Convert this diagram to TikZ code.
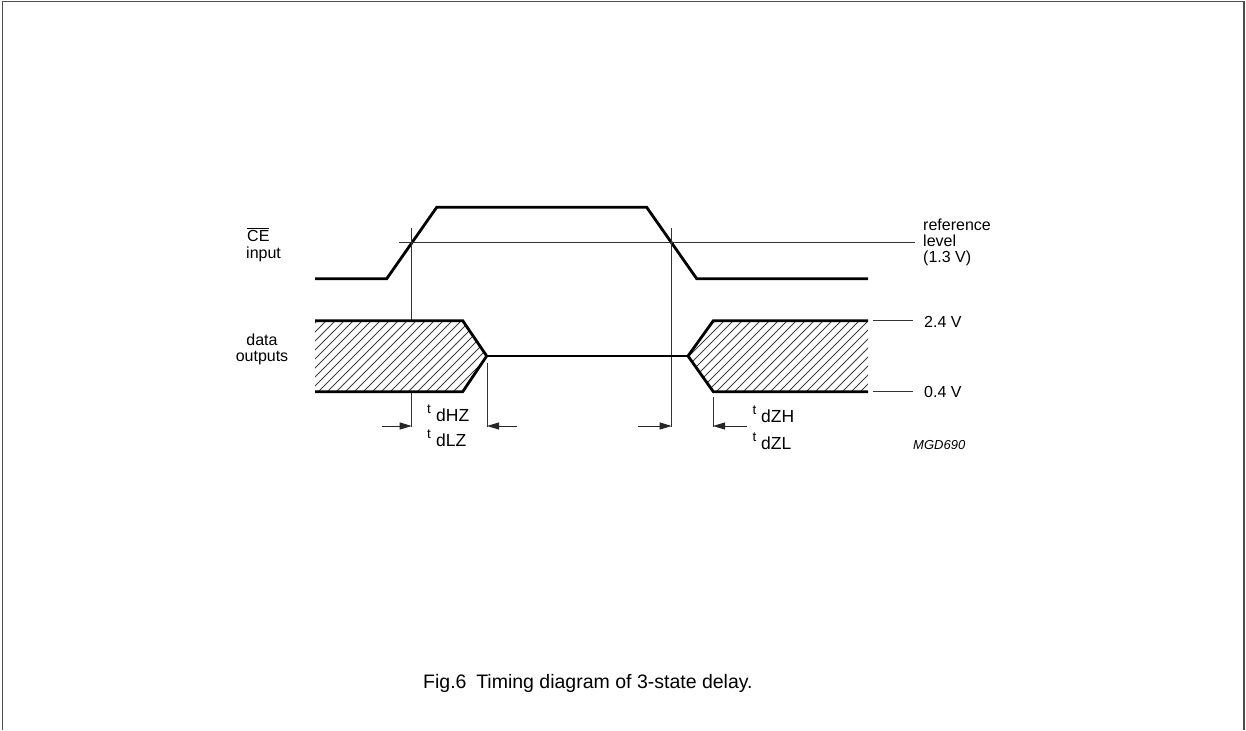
\documentclass[tikz,border=0pt]{standalone}
\usepackage{fontspec}
\setmainfont{Liberation Sans}
\usetikzlibrary{arrows.meta}
\begin{document}
\begin{tikzpicture}[x=1pt,y=-1pt,
  sig/.style={line width=2.8pt,line join=miter},
  thin/.style={line width=0.9pt,black!80},
  hatch/.style={line width=0.8pt,black!75},
  dim/.style={line width=0.9pt,black!85,-{Triangle[length=12pt,width=7pt]}},
  lbl/.style={inner sep=0pt,anchor=base west,font=\fontsize{16}{16}\selectfont},
  sub/.style={inner sep=0pt,anchor=base west,font=\fontsize{17.5}{17.5}\selectfont},
  tsym/.style={inner sep=0pt,anchor=base west,font=\fontsize{13.5}{13.5}\selectfont}]
\useasboundingbox (0,0) rectangle (1246,730);
% frame
\draw[line width=1.6pt,black!70] (2.5,730) -- (2.5,1.5) -- (1244,1.5) -- (1244,730);
% coordinates
\coordinate (a1) at (411.7,228);
\coordinate (a2) at (671.7,228);
% CE input signal
\draw[sig] (315,278.7) -- (386.7,278.7) -- (436.7,207.3) -- (646.7,207.3) -- (696.7,278.7) -- (868,278.7);
% reference level
\draw[thin] (399,242.7) -- (915,242.7);
% vertical markers
\draw[thin] (a1) -- (411.7,320.7);
\draw[thin] (411.7,391.7) -- (411.7,426.7);
\draw[thin] (a2) -- (671.7,426.7);
\draw[thin] (487,363) -- (487,426.7);
\draw[thin] (713,397) -- (713,426.7);
% hatching
\begin{scope}
  \clip (315,320.7) -- (462.7,320.7) -- (486.7,356) -- (462.7,391.7) -- (315,391.7) -- cycle;
  \foreach \i in {220,229,...,500} \draw[hatch] (\i,400) -- (\i+90,310);
\end{scope}
\begin{scope}
  \clip (868,320.7) -- (713.3,320.7) -- (688,356) -- (713.3,391.7) -- (868,391.7) -- cycle;
  \foreach \i in {600,609,...,880} \draw[hatch] (\i,400) -- (\i+90,310);
\end{scope}
% data output signal
\draw[sig] (315,320.7) -- (462.7,320.7) -- (486.7,356) -- (462.7,391.7) -- (315,391.7);
\draw[sig] (486.7,356) -- (688,356);
\draw[sig] (868,320.7) -- (713.3,320.7) -- (688,356) -- (713.3,391.7) -- (868,391.7);
% level ticks
\draw[thin] (873,320.7) -- (913,320.7);
\draw[thin] (873,391.7) -- (913,391.7);
% dimension arrows
\draw[dim] (381.7,426) -- (411.7,426);
\draw[dim] (516.7,426) -- (487,426);
\draw[dim] (638,426) -- (671.7,426);
\draw[dim] (746.7,426) -- (713,426);
% labels
\node[lbl] (ce) at (247,241) {$\overline{\hbox{CE}}$};
\node[lbl] (inp) at (246,258) {input};
\node[lbl,anchor=base] (dat) at (262,345) {data};
\node[lbl,anchor=base] (out) at (262,361) {outputs};
\node[lbl] (r1) at (923,230.7) {reference};
\node[lbl] (r2) at (923,246.7) {level};
\node[lbl] (r3) at (923,262) {(1.3 V)};
\node[lbl] (v24) at (924,327) {2.4 V};
\node[lbl] (v04) at (924,397.7) {0.4 V};
% timing labels
\node[tsym] (t1) at (427,413.5) {t};
\node[sub] (s1) at (436,421.7) {dHZ};
\node[tsym] (t2) at (427,438.5) {t};
\node[sub] (s2) at (436,446.7) {dLZ};
\node[tsym] (t3) at (752.5,414.5) {t};
\node[sub] (s3) at (761,422.7) {dZH};
\node[tsym] (t4) at (752.5,441) {t};
\node[sub] (s4) at (761,449) {dZL};
\node[inner sep=0pt,anchor=base west,font=\fontsize{13}{13}\selectfont\itshape] (mgd) at (913,449) {MGD690};
% caption
\node[inner sep=0pt,anchor=base west,font=\fontsize{19.5}{19.5}\selectfont] (cap) at (423,688.3) {Fig.6\hspace{0.5em}Timing diagram of 3-state delay.};
\end{tikzpicture}
\end{document}
